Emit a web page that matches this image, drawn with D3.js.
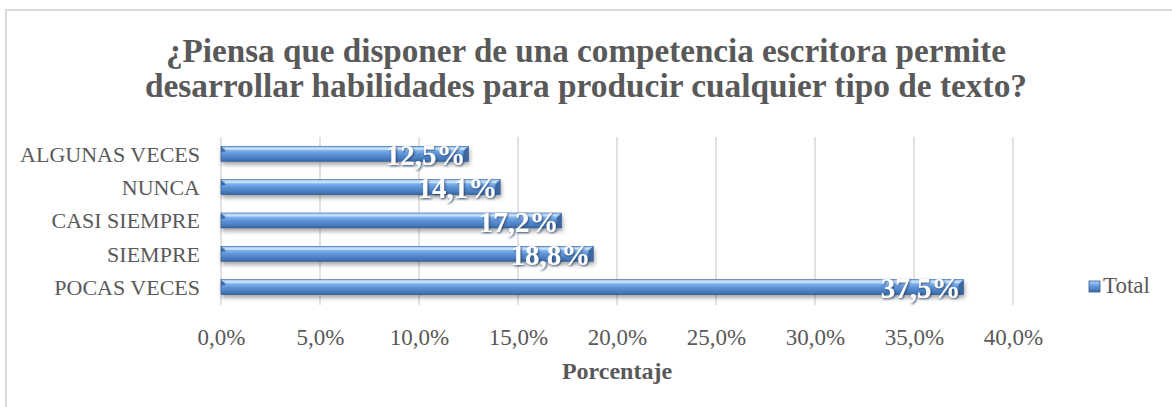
<!DOCTYPE html>
<html><head><meta charset="utf-8">
<script src="https://cdn.jsdelivr.net/npm/d3@7/dist/d3.min.js"></script>
<style>body{margin:0;background:#fff}svg{display:block}</style>
</head><body>
<svg id="c" width="1172" height="407"></svg>
<script>
const categories = ["ALGUNAS VECES","NUNCA","CASI SIEMPRE","SIEMPRE","POCAS VECES"];
const values = [12.5, 14.1, 17.2, 18.8, 37.5];
const tickValues = [0,5,10,15,20,25,30,35,40];
const titleLines = ["¿Piensa que disponer de una competencia escritora permite","desarrollar habilidades para producir cualquier tipo de texto?"];
const seriesName = "Total";
const axisTitle = "Porcentaje";

const svg = d3.select("#c");
const font = "'Liberation Serif',serif";
const defs = svg.append("defs");
const g1 = defs.append("linearGradient").attr("id","bg").attr("x1",0).attr("y1",0).attr("x2",0).attr("y2",1);
[[0,"#b3d5fa"],[0.25,"#84b6ef"],[0.5,"#5f95d8"],[0.8,"#4a7dbf"],[1,"#3a65a0"]].forEach(s=>g1.append("stop").attr("offset",s[0]).attr("stop-color",s[1]));
const f = defs.append("filter").attr("id","sh").attr("x","-5%").attr("y","-50%").attr("width","110%").attr("height","220%");
f.append("feDropShadow").attr("dx",1).attr("dy",3).attr("stdDeviation",2).attr("flood-color","#000").attr("flood-opacity",0.35);
const tf = defs.append("filter").attr("id","tsh").attr("x","-10%").attr("y","-30%").attr("width","130%").attr("height","160%");
tf.append("feDropShadow").attr("dx",1).attr("dy",1).attr("stdDeviation",1).attr("flood-color","#1f3b63").attr("flood-opacity",0.9);

// frame
svg.append("rect").attr("x",6).attr("y",10).attr("width",1180).attr("height",420)
  .attr("fill","none").attr("stroke","#d9d9d9").attr("stroke-width",2);

// title
svg.selectAll(".title").data(titleLines).join("text")
  .attr("x",586).attr("y",(d,i)=>62+i*35).attr("text-anchor","middle")
  .attr("font-family",font).attr("font-weight","bold").attr("font-size",34).attr("fill","#595959")
  .attr("textLength",(d,i)=>i===0?840:882).attr("lengthAdjust","spacingAndGlyphs")
  .text(d=>d);

const x = d3.scaleLinear().domain([0,40]).range([221,1013]);
const y = d3.scaleBand().domain(categories).range([137,304]).paddingInner(0.55).paddingOuter(0.28);

// gridlines
svg.append("g").selectAll("line").data(tickValues).join("line")
  .attr("x1",d=>x(d)).attr("x2",d=>x(d)).attr("y1",137).attr("y2",305)
  .attr("stroke","#d9d9d9").attr("stroke-width",1.5);

// x axis labels
const xa = svg.append("g").attr("transform","translate(0,345)")
  .call(d3.axisBottom(x).tickValues(tickValues).tickSize(0).tickPadding(0).tickFormat(d=>d3.format(".1f")(d).replace(".",",")+"%"));
xa.select(".domain").remove();
xa.selectAll("text").attr("font-family",font).attr("font-size",23).attr("fill","#595959").attr("dy",0);

// y labels
const ya = svg.append("g").attr("transform","translate(200,0)")
  .call(d3.axisLeft(y).tickSize(0).tickPadding(0));
ya.select(".domain").remove();
ya.selectAll("text").attr("font-family",font).attr("font-size",22).attr("fill","#595959").attr("dy","0.35em");

// bars
const bars = svg.append("g").selectAll("g").data(categories.map((c,i)=>({c,v:values[i]}))).join("g");
bars.append("rect").attr("x",x(0)).attr("y",d=>y(d.c)).attr("width",d=>x(d.v)-x(0)).attr("height",y.bandwidth())
  .attr("fill","url(#bg)").attr("stroke","#2f5a8f").attr("stroke-width",0.6).attr("filter","url(#sh)");
bars.append("rect").attr("x",x(0)+4).attr("y",d=>y(d.c)+1.5).attr("width",d=>x(d.v)-x(0)-8).attr("height",2)
  .attr("fill","#d2e7fd").attr("opacity",0.8);
bars.append("path").attr("d",d=>{const y0=y(d.c),x0=x(0);return `M${x0},${y0}L${x0+5},${y0+5}L${x0},${y0+6}Z`;})
  .attr("fill","#2f5a8f").attr("opacity",0.8);
bars.append("path").attr("d",d=>{const y0=y(d.c),x1=x(d.v),h=y.bandwidth();return `M${x1},${y0}L${x1-5},${y0+5}L${x1-5},${y0+h}L${x1},${y0+h}Z`;})
  .attr("fill","#3d679f");
bars.append("text").attr("x",d=>x(d.v)-3).attr("y",d=>y(d.c)+y.bandwidth()/2+11).attr("text-anchor","end")
  .attr("font-family",font).attr("font-weight","bold").attr("font-size",29).attr("fill","#fff")
  .attr("filter","url(#tsh)").text(d=>d3.format(".1f")(d.v).replace(".",",")+"%");

// axis title
svg.append("text").attr("x",617).attr("y",379).attr("text-anchor","middle")
  .attr("font-family",font).attr("font-weight","bold").attr("font-size",24).attr("fill","#595959").text(axisTitle);

// legend
const lg = svg.append("g").attr("transform","translate(1089,281)");
lg.append("rect").attr("width",11).attr("height",11).attr("fill","url(#bg)").attr("stroke","#2f5a8f").attr("stroke-width",0.8);
lg.append("text").attr("x",14).attr("y",12).attr("font-family",font).attr("font-size",23).attr("fill","#595959").text(seriesName);
</script>
</body></html>
